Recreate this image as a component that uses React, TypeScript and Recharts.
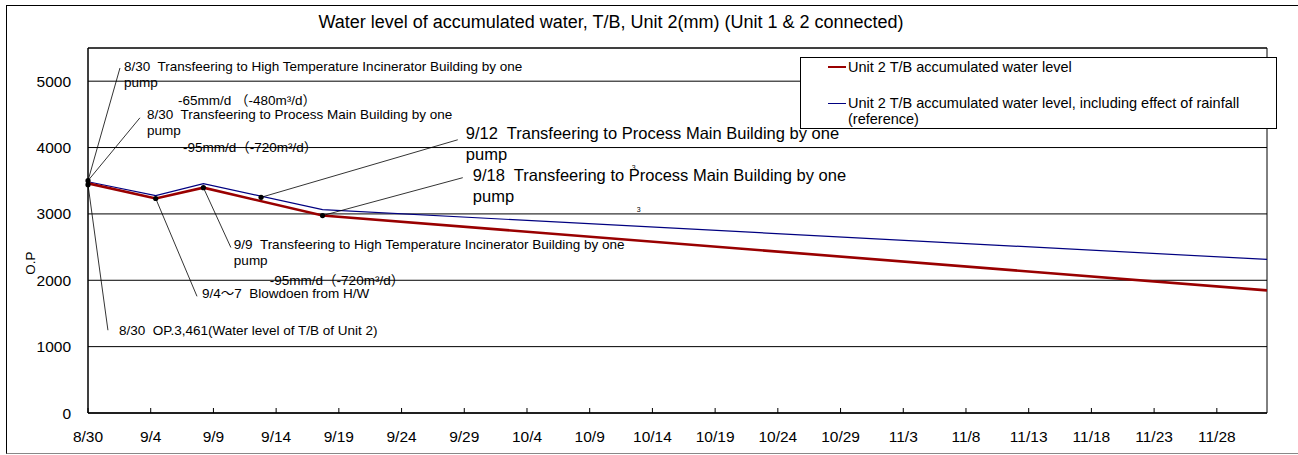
import React from 'react';
import {
  LineChart,
  Line,
  XAxis,
  YAxis,
  CartesianGrid,
  ReferenceArea,
  ReferenceDot,
  ReferenceLine,
  Legend,
} from 'recharts';

const FONT = '"Liberation Sans", Arial, Helvetica, "Noto Sans CJK JP", sans-serif';

// x axis: days since 8/30
const tickDays = [0, 5, 10, 15, 20, 25, 30, 35, 40, 45, 50, 55, 60, 65, 70, 75, 80, 85, 90];
const tickLabels = [
  '8/30', '9/4', '9/9', '9/14', '9/19', '9/24', '9/29', '10/4', '10/9', '10/14',
  '10/19', '10/24', '10/29', '11/3', '11/8', '11/13', '11/18', '11/23', '11/28',
];
const yTicks = [0, 1000, 2000, 3000, 4000, 5000];

// series
const days = [0, 5.4, 9.2, 18.7, 94];
const unit2Level = [3461, 3232, 3396, 2975, 1848];
const unit2LevelRain = [3485, 3275, 3456, 3065, 2314];

const seriesNames = [
  'Unit 2 T/B accumulated water level',
  'Unit 2 T/B accumulated water level, including effect of rainfall (reference)',
];

const data = days.map((d, i) => ({ day: d, level: unit2Level[i], rain: unit2LevelRain[i] }));

// annotations (text + anchor in data units)
const noteTexts = [
  ['8/30  Transfeering to High Temperature Incinerator Building by one', 'pump'],
  ['-65mm/d （-480m³/d）'],
  ['8/30  Transfeering to Process Main Building by one', 'pump'],
  ['-95mm/d（-720m³/d）'],
  ['9/12  Transfeering to Process Main Building by one', 'pump'],
  ['9/18  Transfeering to Process Main Building by one', 'pump'],
  ['9/9  Transfeering to High Temperature Incinerator Building by one', 'pump'],
  ['-95mm/d（-720m³/d）'],
  ['9/4～7  Blowdoen from H/W'],
  ['8/30  OP.3,461(Water level of T/B of Unit 2)'],
  ['3'],
  ['3'],
];
const noteAnchors = [
  [2.87, 5229], [7.17, 4718], [4.7, 4508], [7.57, 3997], [30.12, 4222], [30.68, 3576],
  [11.63, 2539], [14.5, 1998], [9.08, 1803], [2.47, 1247], [43.35, 3697], [43.75, 3066],
];
const noteKinds = ['s', 's', 's', 's', 'b', 'b', 's', 's', 's', 's', 't', 't'];

const leaderLines = [
  [[0, 3501], [2.55, 5199]],
  [[0, 3501], [4.14, 4448]],
  [[13.8, 3250], [29.48, 4117]],
  [[18.7, 2975], [29.88, 3546]],
  [[9.2, 3396], [11.39, 2494]],
  [[5.4, 3232], [8.69, 1758]],
  [[0, 3440], [1.59, 1247]],
];
const markerDots = [[0, 3501], [0, 3440], [5.4, 3232], [9.2, 3396], [13.8, 3250], [18.7, 2975]];

const kindStyle: Record<string, { size: number; lh: number }> = {
  s: { size: 13.5, lh: 16 },
  b: { size: 16.5, lh: 21 },
  t: { size: 7, lh: 8 },
};

const NoteShape = (props: any) => {
  const { cx, cy, lines, kind } = props;
  const st = kindStyle[kind];
  return (
    <text
      x={cx}
      y={cy}
      fontSize={st.size}
      fontFamily={FONT}
      fill="#000"
      style={{ whiteSpace: 'pre' }}
    >
      {lines.map((l: string, i: number) => (
        <tspan key={i} x={cx} dy={i === 0 ? '0.35em' : st.lh}>
          {l}
        </tspan>
      ))}
    </text>
  );
};

const colors = ['#990000', '#000080'];

const LegendBox = () => (
  <div
    style={{
      width: 477,
      height: 72,
      boxSizing: 'border-box',
      border: '1px solid #000',
      background: '#fff',
      position: 'relative',
      fontFamily: FONT,
      fontSize: 14.5,
      color: '#000',
    }}
  >
    <div style={{ position: 'absolute', left: 27, top: 8, width: 18, height: 2, background: colors[0] }} />
    <div style={{ position: 'absolute', left: 47, top: 0, height: 18, lineHeight: '18px', whiteSpace: 'nowrap' }}>
      {seriesNames[0]}
    </div>
    <div style={{ position: 'absolute', left: 27, top: 45, width: 18, height: 1, background: colors[1] }} />
    <div style={{ position: 'absolute', left: 47, top: 37, width: 425, lineHeight: '16px' }}>
      {seriesNames[1]}
    </div>
  </div>
);

export default function App() {
  return (
    <div
      style={{
        position: 'absolute',
        left: 0,
        top: 0,
        width: 1298,
        height: 455,
        overflow: 'hidden',
        background: '#fff',
        fontFamily: FONT,
      }}
    >
      <div
        style={{
          position: 'absolute',
          left: 6,
          top: 5,
          width: 1400,
          height: 447,
          borderLeft: '1px solid #000',
          borderTop: '1px solid #000',
          borderBottom: '1px solid #888',
        }}
      />
      <div
        style={{
          position: 'absolute',
          left: 0,
          top: 11,
          width: 1222,
          textAlign: 'center',
          fontSize: 18,
          lineHeight: '22px',
          color: '#000',
          whiteSpace: 'nowrap',
        }}
      >
        Water level of accumulated water, T/B, Unit 2(mm) (Unit 1 &amp; 2 connected)
      </div>
      <div
        style={{
          position: 'absolute',
          left: 30,
          top: 263,
          transform: 'translate(-50%, -50%) rotate(-90deg)',
          fontSize: 13.5,
          color: '#000',
          whiteSpace: 'nowrap',
        }}
      >
        O.P
      </div>
      <div style={{ position: 'absolute', left: 0, top: 0 }}>
        <LineChart
          width={1298}
          height={455}
          data={data}
          margin={{ top: 48, right: 31, bottom: 12, left: 28 }}
        >
          <CartesianGrid vertical={false} stroke="#000" strokeWidth={1} fill="none" />
          <XAxis
            type="number"
            dataKey="day"
            domain={[0, 94]}
            ticks={tickDays}
            interval={0}
            tickFormatter={(v: number) => tickLabels[tickDays.indexOf(v)]}
            tickSize={-5}
            tickMargin={23}
            height={30}
            axisLine={{ stroke: '#000' }}
            tickLine={{ stroke: '#000' }}
            tick={{ fill: '#000', fontSize: 15.5, fontFamily: FONT }}
            allowDataOverflow
          />
          <YAxis
            type="number"
            domain={[0, 5500]}
            ticks={yTicks}
            interval={0}
            tickLine={false}
            tickMargin={11}
            width={60}
            axisLine={{ stroke: '#000' }}
            tick={{ fill: '#000', fontSize: 15.5, fontFamily: FONT }}
            allowDataOverflow
          />
          <ReferenceArea x1={0} x2={94} y1={0} y2={5500} fill="none" fillOpacity={0} stroke="#000" ifOverflow="visible" />
          <Line
            type="linear"
            dataKey="rain"
            name={seriesNames[1]}
            stroke={colors[1]}
            strokeWidth={1.2}
            dot={false}
            activeDot={false}
            isAnimationActive={false}
          />
          <Line
            type="linear"
            dataKey="level"
            name={seriesNames[0]}
            stroke={colors[0]}
            strokeWidth={2.6}
            dot={false}
            activeDot={false}
            isAnimationActive={false}
          />
          {leaderLines.map((seg, i) => (
            <ReferenceLine
              key={'l' + i}
              segment={[{ x: seg[0][0], y: seg[0][1] }, { x: seg[1][0], y: seg[1][1] }]}
              stroke="#000"
              strokeWidth={0.8}
              ifOverflow="visible"
            />
          ))}
          {markerDots.map((p, i) => (
            <ReferenceDot key={'d' + i} x={p[0]} y={p[1]} r={2.6} fill="#000" stroke="none" ifOverflow="visible" />
          ))}
          {noteTexts.map((lines, i) => (
            <ReferenceDot
              key={'n' + i}
              x={noteAnchors[i][0]}
              y={noteAnchors[i][1]}
              r={1}
              ifOverflow="visible"
              shape={(p: any) => <NoteShape cx={p.cx} cy={p.cy} lines={lines} kind={noteKinds[i]} />}
            />
          ))}
          <Legend
            layout="vertical"
            align="center"
            verticalAlign="middle"
            content={() => <LegendBox />}
            wrapperStyle={{ left: 800, top: 57, width: 477, height: 72 }}
          />
        </LineChart>
      </div>
    </div>
  );
}
